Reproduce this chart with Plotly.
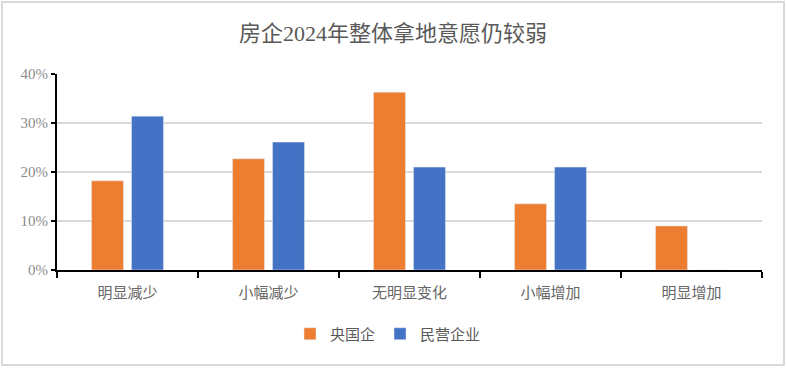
import plotly.graph_objects as go

categories = ["明显减少", "小幅减少", "无明显变化", "小幅增加", "明显增加"]
soe = [18.2, 22.7, 36.3, 13.5, 9.0]
private = [31.4, 26.1, 21.0, 21.0, 0]
series_names = ["央国企", "民营企业"]
title = "房企2024年整体拿地意愿仍较弱"

W, H = 786, 368
L, R, T, B = 57, 24, 74, 98
pw, ph = W - L - R, H - T - B

fig = go.Figure()
fig.add_trace(go.Bar(x=categories, y=soe, name=series_names[0], marker_color="#ED7D31"))
fig.add_trace(go.Bar(x=categories, y=private, name=series_names[1], marker_color="#4472C4"))

font_family = "Liberation Serif, Noto Sans CJK SC, serif"
fig.update_layout(
    width=W, height=H,
    margin=dict(l=L, r=R, t=T, b=B, autoexpand=False),
    paper_bgcolor="white", plot_bgcolor="white",
    barmode="group", bargap=0.433, bargroupgap=0.2,
    title=dict(text=title, x=0.5, xanchor="center", y=1 - 33 / H, yanchor="middle",
               font=dict(family=font_family, size=22, color="#595959")),
    showlegend=True,
    legend=dict(orientation="h", x=(394 - 6 - L) / pw, xanchor="center", y=-(334 - 270) / ph, yanchor="middle",
                font=dict(family=font_family, size=15, color="#595959"),
                itemwidth=30, traceorder="normal"),
    xaxis=dict(showline=True, linecolor="black", linewidth=2, ticks="outside",
               tickson="boundaries", ticklen=6, tickwidth=2, tickcolor="black",
               ticklabelstandoff=8,
               tickfont=dict(family=font_family, size=15, color="#666666"),
               showgrid=False, automargin=False),
    yaxis=dict(range=[0, 40], dtick=10, ticksuffix="%", showline=True, linecolor="black",
               linewidth=2, ticks="outside", ticklen=4, tickwidth=2, tickcolor="black",
               tickfont=dict(family=font_family, size=15, color="#8c8c8c"),
               gridcolor="#d9d9d9", gridwidth=2, zeroline=False, automargin=False),
    shapes=[dict(type="rect", xref="paper", yref="paper",
                 x0=(2 - L) / pw, x1=(784 - L) / pw,
                 y0=(T + ph - 365) / ph, y1=(T + ph - 2) / ph,
                 line=dict(color="#d9d9d9", width=2), fillcolor="rgba(0,0,0,0)", layer="below")],
)

fig.write_html("out.html", config={"displayModeBar": False},
               post_script="document.body.style.margin='0';document.body.style.overflow='hidden';")
